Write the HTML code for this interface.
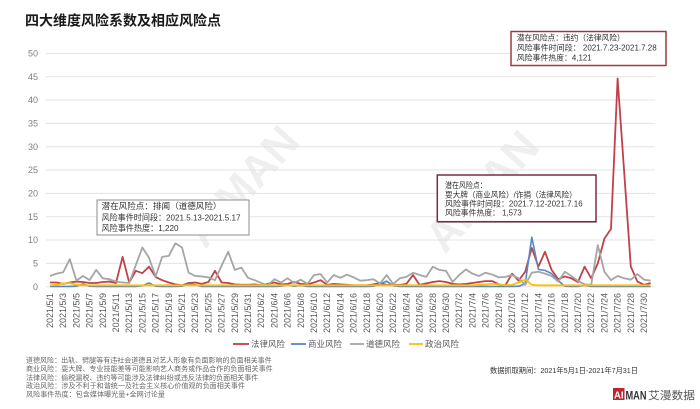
<!DOCTYPE html>
<html><head><meta charset="utf-8">
<style>
html,body{margin:0;padding:0;background:#fff;}
svg{display:block;font-family:"Liberation Sans","Noto Sans CJK SC",sans-serif;}
</style></head>
<body>
<svg width="700" height="409" viewBox="0 0 700 409" xmlns="http://www.w3.org/2000/svg">
<rect width="700" height="409" fill="#fff"/>
<!-- watermarks -->
<g fill="#000" opacity="0.06" font-weight="bold">
<text x="0" y="0" font-size="44" transform="translate(205,250) rotate(-48)">AIMAN</text>
<text x="0" y="0" font-size="44" transform="translate(445,255) rotate(-48)">AIMAN</text>
</g>
<!-- title -->
<text x="25" y="25.5" font-size="14" font-weight="bold" fill="#1a1a1a">四大维度风险系数及相应风险点</text>
<!-- grid -->
<g stroke="#e3e3e3" stroke-width="1">
<line x1="46" y1="286.7" x2="655" y2="286.7"/>
<line x1="46" y1="263.4" x2="655" y2="263.4"/>
<line x1="46" y1="240" x2="655" y2="240"/>
<line x1="46" y1="216.7" x2="655" y2="216.7"/>
<line x1="46" y1="193.4" x2="655" y2="193.4"/>
<line x1="46" y1="170" x2="655" y2="170"/>
<line x1="46" y1="146.7" x2="655" y2="146.7"/>
<line x1="46" y1="123.4" x2="655" y2="123.4"/>
<line x1="46" y1="100" x2="655" y2="100"/>
<line x1="46" y1="76.7" x2="655" y2="76.7"/>
<line x1="46" y1="53.4" x2="655" y2="53.4"/>
</g>
<g font-size="9" fill="#7f7f7f" text-anchor="end">
<text x="38" y="289.9">0</text>
<text x="38" y="266.6">5</text>
<text x="38" y="243.2">10</text>
<text x="38" y="219.9">15</text>
<text x="38" y="196.6">20</text>
<text x="38" y="173.2">25</text>
<text x="38" y="149.9">30</text>
<text x="38" y="126.6">35</text>
<text x="38" y="103.2">40</text>
<text x="38" y="79.9">45</text>
<text x="38" y="56.6">50</text>
</g>
<!-- series -->
<g transform="translate(50,286.7) scale(6.6,-4.667)" fill="none" stroke-linejoin="round">
<polyline vector-effect="non-scaling-stroke" stroke="#c0414a" stroke-width="1.8" points="0,0.9 1,0.9 2,0.6 3,0.9 4,1.1 5,1.0 6,0.8 7,0.8 8,1.0 9,1.1 10,0.8 11,6.4 12,0.9 13,3.4 14,2.9 15,4.3 16,2.1 17,1.4 18,0.9 19,0.5 20,0.3 21,0.8 22,0.9 23,0.6 24,1.0 25,3.4 26,0.9 27,0.8 28,0.5 29,0.4 30,0.4 31,0.5 32,0.3 33,0.6 34,0.9 35,0.5 36,0.6 37,1.0 38,0.6 39,0.5 40,0.9 41,1.4 42,0.4 43,0.6 44,0.5 45,0.4 46,0.3 47,0.3 48,0.3 49,0.5 50,0.8 51,0.4 52,0.4 53,0.4 54,0.6 55,2.5 56,0.4 57,0.7 58,1.0 59,1.2 60,1.0 61,0.6 62,0.5 63,0.6 64,0.8 65,1.0 66,1.2 67,1.2 68,0.5 69,0.3 70,2.8 71,1.3 72,3.2 73,8.3 74,4.3 75,7.5 76,3.6 77,1.6 78,2.2 79,1.8 80,1.0 81,4.3 82,1.8 83,5.0 84,10.3 85,12.4 86,44.6 87,24.5 88,4.3 89,1.1 90,0.4 91,0.8"/>
<polyline vector-effect="non-scaling-stroke" stroke="#5b86c5" stroke-width="1.6" points="0,0.05 1,0.05 2,0.05 3,0.05 4,0.1 5,0.6 6,0.1 7,0.05 8,0.05 9,0.05 10,0.05 11,0.05 12,0.05 13,0.05 14,0.2 15,0.8 16,0.1 17,0.05 18,0.05 19,0.05 20,0.1 21,0.6 22,0.4 23,0.05 24,0.05 25,0.05 26,0.05 27,0.05 28,0.05 29,0.05 30,0.05 31,0.05 32,0.05 33,0.05 34,0.05 35,0.1 36,0.4 37,0.1 38,0.3 39,0.05 40,0.05 41,0.05 42,0.05 43,0.05 44,0.05 45,0.05 46,0.05 47,0.05 48,0.05 49,0.1 50,0.6 51,1.2 52,0.2 53,0.05 54,0.05 55,0.05 56,0.05 57,0.05 58,0.05 59,0.05 60,0.05 61,0.05 62,0.05 63,0.05 64,0.05 65,0.05 66,0.05 67,0.05 68,0.05 69,0.05 70,0.05 71,0.1 72,0.6 73,10.6 74,3.7 75,3.5 76,2.8 77,1.3 78,0.1 79,0.05 80,0.05 81,0.3 82,0.05 83,0.05 84,0.05 85,0.05 86,0.05 87,0.05 88,0.05 89,0.05 90,0.05 91,0.05"/>
<polyline vector-effect="non-scaling-stroke" stroke="#a5a5a5" stroke-width="1.8" points="0,2.3 1,2.8 2,3.1 3,5.9 4,1.3 5,2.3 6,1.4 7,3.6 8,1.8 9,1.6 10,1.1 11,0.9 12,0.8 13,4.6 14,8.4 15,6.2 16,2.2 17,6.4 18,6.6 19,9.3 20,8.4 21,3.0 22,2.3 23,2.2 24,2.0 25,1.4 26,4.5 27,7.5 28,3.6 29,4.1 30,1.9 31,1.4 32,0.8 33,0.3 34,1.6 35,0.9 36,1.8 37,0.8 38,1.5 39,0.6 40,2.5 41,2.7 42,0.9 43,2.5 44,1.9 45,2.6 46,2.0 47,1.3 48,1.4 49,1.6 50,0.7 51,2.5 52,0.6 53,1.8 54,2.1 55,3.0 56,2.5 57,2.1 58,4.3 59,3.6 60,3.4 61,1.0 62,2.5 63,3.7 64,2.8 65,2.3 66,3.0 67,2.6 68,2.0 69,2.1 70,2.5 71,1.8 72,0.4 73,3.0 74,3.2 75,2.8 76,2.3 77,1.1 78,3.2 79,2.3 80,1.2 81,0.5 82,0.4 83,8.9 84,3.2 85,1.4 86,2.3 87,1.8 88,1.5 89,2.7 90,1.5 91,1.3"/>
<polyline vector-effect="non-scaling-stroke" stroke="#ffc000" stroke-width="1.8" points="0,0.3 1,0.4 2,0.7 3,0.8 4,0.4 5,0.3 6,0.3 7,0.3 8,0.3 9,0.3 10,0.3 11,0.3 12,0.3 13,0.3 14,0.3 15,0.3 16,0.3 17,0.3 18,0.3 19,0.3 20,0.3 21,0.3 22,0.3 23,0.3 24,0.3 25,0.3 26,0.3 27,0.3 28,0.3 29,0.3 30,0.3 31,0.3 32,0.3 33,0.3 34,0.3 35,0.3 36,0.3 37,0.3 38,0.3 39,0.3 40,0.3 41,0.3 42,0.3 43,0.3 44,0.3 45,0.3 46,0.3 47,0.3 48,0.3 49,0.3 50,0.3 51,0.3 52,0.3 53,0.3 54,0.3 55,0.3 56,0.3 57,0.3 58,0.3 59,0.3 60,0.3 61,0.3 62,0.3 63,0.3 64,0.3 65,0.4 66,0.5 67,0.6 68,0.5 69,0.3 70,0.4 71,0.9 72,1.5 73,0.4 74,0.3 75,0.3 76,0.3 77,0.3 78,0.3 79,0.3 80,0.3 81,0.3 82,0.3 83,0.3 84,0.3 85,0.3 86,0.3 87,0.3 88,0.3 89,0.3 90,0.3 91,0.3"/>
</g>
<!-- x labels -->
<g font-size="9" fill="#595959" text-anchor="end">
<text transform="translate(53,293) rotate(-90)">2021/5/1</text>
<text transform="translate(66.2,293) rotate(-90)">2021/5/3</text>
<text transform="translate(79.4,293) rotate(-90)">2021/5/5</text>
<text transform="translate(92.6,293) rotate(-90)">2021/5/7</text>
<text transform="translate(105.8,293) rotate(-90)">2021/5/9</text>
<text transform="translate(119,293) rotate(-90)">2021/5/11</text>
<text transform="translate(132.2,293) rotate(-90)">2021/5/13</text>
<text transform="translate(145.4,293) rotate(-90)">2021/5/15</text>
<text transform="translate(158.6,293) rotate(-90)">2021/5/17</text>
<text transform="translate(171.8,293) rotate(-90)">2021/5/19</text>
<text transform="translate(185,293) rotate(-90)">2021/5/21</text>
<text transform="translate(198.2,293) rotate(-90)">2021/5/23</text>
<text transform="translate(211.4,293) rotate(-90)">2021/5/25</text>
<text transform="translate(224.6,293) rotate(-90)">2021/5/27</text>
<text transform="translate(237.8,293) rotate(-90)">2021/5/29</text>
<text transform="translate(251,293) rotate(-90)">2021/5/31</text>
<text transform="translate(264.2,293) rotate(-90)">2021/6/2</text>
<text transform="translate(277.4,293) rotate(-90)">2021/6/4</text>
<text transform="translate(290.6,293) rotate(-90)">2021/6/6</text>
<text transform="translate(303.8,293) rotate(-90)">2021/6/8</text>
<text transform="translate(317,293) rotate(-90)">2021/6/10</text>
<text transform="translate(330.2,293) rotate(-90)">2021/6/12</text>
<text transform="translate(343.4,293) rotate(-90)">2021/6/14</text>
<text transform="translate(356.6,293) rotate(-90)">2021/6/16</text>
<text transform="translate(369.8,293) rotate(-90)">2021/6/18</text>
<text transform="translate(383,293) rotate(-90)">2021/6/20</text>
<text transform="translate(396.2,293) rotate(-90)">2021/6/22</text>
<text transform="translate(409.4,293) rotate(-90)">2021/6/24</text>
<text transform="translate(422.6,293) rotate(-90)">2021/6/26</text>
<text transform="translate(435.8,293) rotate(-90)">2021/6/28</text>
<text transform="translate(449,293) rotate(-90)">2021/6/30</text>
<text transform="translate(462.2,293) rotate(-90)">2021/7/2</text>
<text transform="translate(475.4,293) rotate(-90)">2021/7/4</text>
<text transform="translate(488.6,293) rotate(-90)">2021/7/6</text>
<text transform="translate(501.8,293) rotate(-90)">2021/7/8</text>
<text transform="translate(515,293) rotate(-90)">2021/7/10</text>
<text transform="translate(528.2,293) rotate(-90)">2021/7/12</text>
<text transform="translate(541.4,293) rotate(-90)">2021/7/14</text>
<text transform="translate(554.6,293) rotate(-90)">2021/7/16</text>
<text transform="translate(567.8,293) rotate(-90)">2021/7/18</text>
<text transform="translate(581,293) rotate(-90)">2021/7/20</text>
<text transform="translate(594.2,293) rotate(-90)">2021/7/22</text>
<text transform="translate(607.4,293) rotate(-90)">2021/7/24</text>
<text transform="translate(620.6,293) rotate(-90)">2021/7/26</text>
<text transform="translate(633.8,293) rotate(-90)">2021/7/28</text>
<text transform="translate(647,293) rotate(-90)">2021/7/30</text>
</g>
<!-- legend -->
<g font-size="8.5" fill="#595959">
<line x1="233" y1="344" x2="249" y2="344" stroke="#c0414a" stroke-width="1.8"/>
<text x="251" y="347.2">法律风险</text>
<line x1="291" y1="344" x2="306" y2="344" stroke="#5b86c5" stroke-width="1.8"/>
<text x="308" y="347.2">商业风险</text>
<line x1="350" y1="344" x2="364" y2="344" stroke="#a5a5a5" stroke-width="1.8"/>
<text x="366" y="347.2">道德风险</text>
<line x1="409" y1="344" x2="423" y2="344" stroke="#ffc000" stroke-width="1.8"/>
<text x="425" y="347.2">政治风险</text>
</g>
<!-- annotation boxes -->
<rect x="97" y="200" width="152" height="35" fill="#fff" stroke="#8c8c8c" stroke-width="1"/>
<g font-size="8.4" fill="#333">
<text x="101.5" y="209.2" textLength="120" lengthAdjust="spacingAndGlyphs">潜在风险点：排闻（道德风险）</text>
<text x="101.5" y="220.6" textLength="139" lengthAdjust="spacingAndGlyphs">风险事件时间段：2021.5.13-2021.5.17</text>
<text x="101.5" y="231" textLength="77" lengthAdjust="spacingAndGlyphs">风险事件热度：1,220</text>
</g>
<rect x="511" y="31.5" width="155" height="34" fill="#fff" stroke="#9e3a42" stroke-width="1.5"/>
<g font-size="8" fill="#333">
<text x="516.7" y="40.3" textLength="108" lengthAdjust="spacingAndGlyphs">潜在风险点：违约（法律风险）</text>
<text x="516.7" y="50.3" textLength="140" lengthAdjust="spacingAndGlyphs">风险事件时间段：  2021.7.23-2021.7.28</text>
<text x="516.7" y="60.3" textLength="75" lengthAdjust="spacingAndGlyphs">风险事件热度：4,121</text>
</g>
<rect x="438.5" y="176" width="157.5" height="46.5" fill="none" stroke="#c8c8d0" stroke-width="1"/>
<rect x="437.3" y="175" width="158.7" height="46.7" fill="#fff" stroke="#7a2c45" stroke-width="1.5"/>
<g font-size="8" fill="#333">
<text x="445" y="188" textLength="41.7" lengthAdjust="spacingAndGlyphs">潜在风险点：</text>
<text x="445" y="197.3" textLength="131.7" lengthAdjust="spacingAndGlyphs">耍大牌（商业风险）/诈捐（法律风险）</text>
<text x="445" y="206.3" textLength="137.7" lengthAdjust="spacingAndGlyphs">风险事件时间段：2021.7.12-2021.7.16</text>
<text x="445" y="215.7" textLength="76.7" lengthAdjust="spacingAndGlyphs">风险事件热度：  1,573</text>
</g>
<!-- footnotes -->
<g font-size="6.8" fill="#666">
<text x="26" y="362.4" textLength="245.7" lengthAdjust="spacingAndGlyphs">道德风险：出轨、劈腿等有违社会道德且对艺人形象有负面影响的负面相关事件</text>
<text x="26" y="371.2" textLength="246.7" lengthAdjust="spacingAndGlyphs">商业风险：耍大牌、专业技能差等可能影响艺人商务或作品合作的负面相关事件</text>
<text x="26" y="379.8" textLength="232.3" lengthAdjust="spacingAndGlyphs">法律风险：偷税漏税、违约等可能涉及法律纠纷或违反法律的负面相关事件</text>
<text x="26" y="388.2" textLength="219" lengthAdjust="spacingAndGlyphs">政治风险：涉及不利于和谐统一及社会主义核心价值观的负面相关事件</text>
<text x="26" y="396.6" textLength="139" lengthAdjust="spacingAndGlyphs">风险事件热度：包含媒体曝光量+全网讨论量</text>
</g>
<text x="490" y="372.8" font-size="7.5" fill="#333" textLength="148" lengthAdjust="spacingAndGlyphs">数据抓取期间：2021年5月1日-2021年7月31日</text>
<!-- logo -->
<rect x="613" y="388" width="11.5" height="12" fill="#b8262e"/>
<text x="614" y="398.6" font-size="10.5" font-weight="bold" fill="#fff" textLength="9.5" lengthAdjust="spacingAndGlyphs">AI</text>
<text x="625.5" y="399.5" font-size="12" font-weight="bold" fill="#333" textLength="21" lengthAdjust="spacingAndGlyphs">MAN</text>
<text x="648" y="399" font-size="11" fill="#555" textLength="47" lengthAdjust="spacingAndGlyphs">艾漫数据</text>
</svg>
</body></html>
